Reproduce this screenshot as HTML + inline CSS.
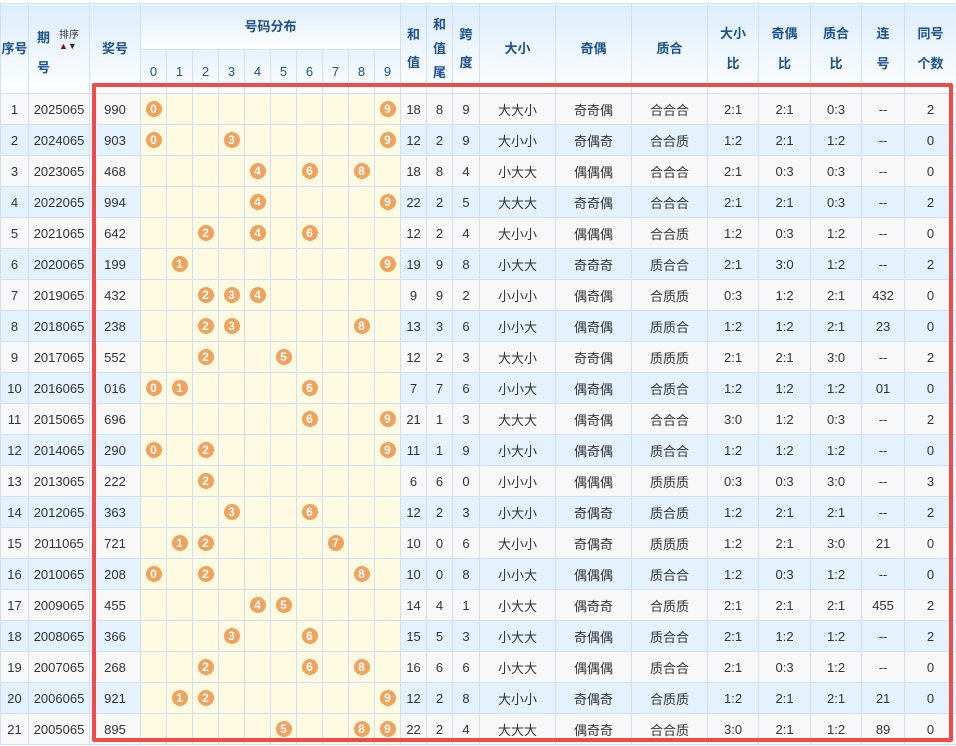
<!DOCTYPE html>
<html><head><meta charset="utf-8"><style>
body{margin:0;background:#fff;width:956px;height:746px;overflow:hidden;position:relative;font-family:"Liberation Sans","Noto Sans CJK SC",sans-serif;}
table{position:absolute;left:0;top:3px;border-collapse:collapse;table-layout:fixed;width:956px;font-size:13px;color:#333;}
td,th{border:1px solid #cfe0f2;text-align:center;padding:0;overflow:hidden;white-space:nowrap;}
th{background:linear-gradient(#dcedfc,#fff);color:#1d4f91;font-weight:bold;font-size:13px;line-height:28px;white-space:normal;}
th.d{font-weight:normal;background:linear-gradient(#e6f2fd,#fff);}
th.r{line-height:30px;}
tbody tr{height:31px;}
tbody tr:nth-child(odd) td{background:#f8f8f8;}
tbody tr:nth-child(even) td{background:#e3f2fd;}
tbody tr td.y{background:#fffbe3;}
b.o{display:inline-block;width:16px;height:16px;border-radius:50%;background:#f2a25c;color:#fff;font-size:12px;line-height:16px;font-weight:bold;}
#frame{position:absolute;left:92px;top:83px;width:853px;height:651px;border:4px solid #f04b4b;border-radius:2px;}
.qh{position:relative;}
.qh .a{position:absolute;left:8px;top:20px;}
.qh .b{position:absolute;left:8px;top:50px;}
.qh .s{position:absolute;left:30px;top:26px;font-size:10px;font-weight:normal;color:#333;line-height:12px;}
.qh .ar{position:absolute;left:30px;top:38px;font-size:9px;line-height:9px;}
</style></head><body>
<table>
<colgroup><col style="width:28px"><col style="width:61px"><col style="width:51px"><col span="10" style="width:26px"><col style="width:26px"><col style="width:26px"><col style="width:27px"><col style="width:76px"><col style="width:76px"><col style="width:76px"><col style="width:51px"><col style="width:52px"><col style="width:51px"><col style="width:43px"><col style="width:52px"></colgroup>
<thead>
<tr style="height:46px"><th rowspan="2">序号</th><th rowspan="2" class="qh"><span class="a">期</span><span class="s">排序</span><span class="ar"><span style="color:#a00">▲</span><span style="color:#333">▼</span></span><span class="b">号</span></th><th rowspan="2">奖号</th><th colspan="10">号码分布</th><th rowspan="2">和<br>值</th><th rowspan="2" style="line-height:24px">和<br>值<br>尾</th><th rowspan="2">跨<br>度</th><th rowspan="2">大小</th><th rowspan="2">奇偶</th><th rowspan="2">质合</th><th rowspan="2" class="r">大小<br>比</th><th rowspan="2" class="r">奇偶<br>比</th><th rowspan="2" class="r">质合<br>比</th><th rowspan="2" class="r">连<br>号</th><th rowspan="2" class="r">同号<br>个数</th></tr>
<tr style="height:44px"><th class="d">0</th><th class="d">1</th><th class="d">2</th><th class="d">3</th><th class="d">4</th><th class="d">5</th><th class="d">6</th><th class="d">7</th><th class="d">8</th><th class="d">9</th></tr>
</thead>
<tbody>
<tr><td>1</td><td>2025065</td><td>990</td><td class="y"><b class="o">0</b></td><td class="y"></td><td class="y"></td><td class="y"></td><td class="y"></td><td class="y"></td><td class="y"></td><td class="y"></td><td class="y"></td><td class="y"><b class="o">9</b></td><td>18</td><td>8</td><td>9</td><td>大大小</td><td>奇奇偶</td><td>合合合</td><td>2:1</td><td>2:1</td><td>0:3</td><td>--</td><td>2</td></tr>
<tr><td>2</td><td>2024065</td><td>903</td><td class="y"><b class="o">0</b></td><td class="y"></td><td class="y"></td><td class="y"><b class="o">3</b></td><td class="y"></td><td class="y"></td><td class="y"></td><td class="y"></td><td class="y"></td><td class="y"><b class="o">9</b></td><td>12</td><td>2</td><td>9</td><td>大小小</td><td>奇偶奇</td><td>合合质</td><td>1:2</td><td>2:1</td><td>1:2</td><td>--</td><td>0</td></tr>
<tr><td>3</td><td>2023065</td><td>468</td><td class="y"></td><td class="y"></td><td class="y"></td><td class="y"></td><td class="y"><b class="o">4</b></td><td class="y"></td><td class="y"><b class="o">6</b></td><td class="y"></td><td class="y"><b class="o">8</b></td><td class="y"></td><td>18</td><td>8</td><td>4</td><td>小大大</td><td>偶偶偶</td><td>合合合</td><td>2:1</td><td>0:3</td><td>0:3</td><td>--</td><td>0</td></tr>
<tr><td>4</td><td>2022065</td><td>994</td><td class="y"></td><td class="y"></td><td class="y"></td><td class="y"></td><td class="y"><b class="o">4</b></td><td class="y"></td><td class="y"></td><td class="y"></td><td class="y"></td><td class="y"><b class="o">9</b></td><td>22</td><td>2</td><td>5</td><td>大大大</td><td>奇奇偶</td><td>合合合</td><td>2:1</td><td>2:1</td><td>0:3</td><td>--</td><td>2</td></tr>
<tr><td>5</td><td>2021065</td><td>642</td><td class="y"></td><td class="y"></td><td class="y"><b class="o">2</b></td><td class="y"></td><td class="y"><b class="o">4</b></td><td class="y"></td><td class="y"><b class="o">6</b></td><td class="y"></td><td class="y"></td><td class="y"></td><td>12</td><td>2</td><td>4</td><td>大小小</td><td>偶偶偶</td><td>合合质</td><td>1:2</td><td>0:3</td><td>1:2</td><td>--</td><td>0</td></tr>
<tr><td>6</td><td>2020065</td><td>199</td><td class="y"></td><td class="y"><b class="o">1</b></td><td class="y"></td><td class="y"></td><td class="y"></td><td class="y"></td><td class="y"></td><td class="y"></td><td class="y"></td><td class="y"><b class="o">9</b></td><td>19</td><td>9</td><td>8</td><td>小大大</td><td>奇奇奇</td><td>质合合</td><td>2:1</td><td>3:0</td><td>1:2</td><td>--</td><td>2</td></tr>
<tr><td>7</td><td>2019065</td><td>432</td><td class="y"></td><td class="y"></td><td class="y"><b class="o">2</b></td><td class="y"><b class="o">3</b></td><td class="y"><b class="o">4</b></td><td class="y"></td><td class="y"></td><td class="y"></td><td class="y"></td><td class="y"></td><td>9</td><td>9</td><td>2</td><td>小小小</td><td>偶奇偶</td><td>合质质</td><td>0:3</td><td>1:2</td><td>2:1</td><td>432</td><td>0</td></tr>
<tr><td>8</td><td>2018065</td><td>238</td><td class="y"></td><td class="y"></td><td class="y"><b class="o">2</b></td><td class="y"><b class="o">3</b></td><td class="y"></td><td class="y"></td><td class="y"></td><td class="y"></td><td class="y"><b class="o">8</b></td><td class="y"></td><td>13</td><td>3</td><td>6</td><td>小小大</td><td>偶奇偶</td><td>质质合</td><td>1:2</td><td>1:2</td><td>2:1</td><td>23</td><td>0</td></tr>
<tr><td>9</td><td>2017065</td><td>552</td><td class="y"></td><td class="y"></td><td class="y"><b class="o">2</b></td><td class="y"></td><td class="y"></td><td class="y"><b class="o">5</b></td><td class="y"></td><td class="y"></td><td class="y"></td><td class="y"></td><td>12</td><td>2</td><td>3</td><td>大大小</td><td>奇奇偶</td><td>质质质</td><td>2:1</td><td>2:1</td><td>3:0</td><td>--</td><td>2</td></tr>
<tr><td>10</td><td>2016065</td><td>016</td><td class="y"><b class="o">0</b></td><td class="y"><b class="o">1</b></td><td class="y"></td><td class="y"></td><td class="y"></td><td class="y"></td><td class="y"><b class="o">6</b></td><td class="y"></td><td class="y"></td><td class="y"></td><td>7</td><td>7</td><td>6</td><td>小小大</td><td>偶奇偶</td><td>合质合</td><td>1:2</td><td>1:2</td><td>1:2</td><td>01</td><td>0</td></tr>
<tr><td>11</td><td>2015065</td><td>696</td><td class="y"></td><td class="y"></td><td class="y"></td><td class="y"></td><td class="y"></td><td class="y"></td><td class="y"><b class="o">6</b></td><td class="y"></td><td class="y"></td><td class="y"><b class="o">9</b></td><td>21</td><td>1</td><td>3</td><td>大大大</td><td>偶奇偶</td><td>合合合</td><td>3:0</td><td>1:2</td><td>0:3</td><td>--</td><td>2</td></tr>
<tr><td>12</td><td>2014065</td><td>290</td><td class="y"><b class="o">0</b></td><td class="y"></td><td class="y"><b class="o">2</b></td><td class="y"></td><td class="y"></td><td class="y"></td><td class="y"></td><td class="y"></td><td class="y"></td><td class="y"><b class="o">9</b></td><td>11</td><td>1</td><td>9</td><td>小大小</td><td>偶奇偶</td><td>质合合</td><td>1:2</td><td>1:2</td><td>1:2</td><td>--</td><td>0</td></tr>
<tr><td>13</td><td>2013065</td><td>222</td><td class="y"></td><td class="y"></td><td class="y"><b class="o">2</b></td><td class="y"></td><td class="y"></td><td class="y"></td><td class="y"></td><td class="y"></td><td class="y"></td><td class="y"></td><td>6</td><td>6</td><td>0</td><td>小小小</td><td>偶偶偶</td><td>质质质</td><td>0:3</td><td>0:3</td><td>3:0</td><td>--</td><td>3</td></tr>
<tr><td>14</td><td>2012065</td><td>363</td><td class="y"></td><td class="y"></td><td class="y"></td><td class="y"><b class="o">3</b></td><td class="y"></td><td class="y"></td><td class="y"><b class="o">6</b></td><td class="y"></td><td class="y"></td><td class="y"></td><td>12</td><td>2</td><td>3</td><td>小大小</td><td>奇偶奇</td><td>质合质</td><td>1:2</td><td>2:1</td><td>2:1</td><td>--</td><td>2</td></tr>
<tr><td>15</td><td>2011065</td><td>721</td><td class="y"></td><td class="y"><b class="o">1</b></td><td class="y"><b class="o">2</b></td><td class="y"></td><td class="y"></td><td class="y"></td><td class="y"></td><td class="y"><b class="o">7</b></td><td class="y"></td><td class="y"></td><td>10</td><td>0</td><td>6</td><td>大小小</td><td>奇偶奇</td><td>质质质</td><td>1:2</td><td>2:1</td><td>3:0</td><td>21</td><td>0</td></tr>
<tr><td>16</td><td>2010065</td><td>208</td><td class="y"><b class="o">0</b></td><td class="y"></td><td class="y"><b class="o">2</b></td><td class="y"></td><td class="y"></td><td class="y"></td><td class="y"></td><td class="y"></td><td class="y"><b class="o">8</b></td><td class="y"></td><td>10</td><td>0</td><td>8</td><td>小小大</td><td>偶偶偶</td><td>质合合</td><td>1:2</td><td>0:3</td><td>1:2</td><td>--</td><td>0</td></tr>
<tr><td>17</td><td>2009065</td><td>455</td><td class="y"></td><td class="y"></td><td class="y"></td><td class="y"></td><td class="y"><b class="o">4</b></td><td class="y"><b class="o">5</b></td><td class="y"></td><td class="y"></td><td class="y"></td><td class="y"></td><td>14</td><td>4</td><td>1</td><td>小大大</td><td>偶奇奇</td><td>合质质</td><td>2:1</td><td>2:1</td><td>2:1</td><td>455</td><td>2</td></tr>
<tr><td>18</td><td>2008065</td><td>366</td><td class="y"></td><td class="y"></td><td class="y"></td><td class="y"><b class="o">3</b></td><td class="y"></td><td class="y"></td><td class="y"><b class="o">6</b></td><td class="y"></td><td class="y"></td><td class="y"></td><td>15</td><td>5</td><td>3</td><td>小大大</td><td>奇偶偶</td><td>质合合</td><td>2:1</td><td>1:2</td><td>1:2</td><td>--</td><td>2</td></tr>
<tr><td>19</td><td>2007065</td><td>268</td><td class="y"></td><td class="y"></td><td class="y"><b class="o">2</b></td><td class="y"></td><td class="y"></td><td class="y"></td><td class="y"><b class="o">6</b></td><td class="y"></td><td class="y"><b class="o">8</b></td><td class="y"></td><td>16</td><td>6</td><td>6</td><td>小大大</td><td>偶偶偶</td><td>质合合</td><td>2:1</td><td>0:3</td><td>1:2</td><td>--</td><td>0</td></tr>
<tr><td>20</td><td>2006065</td><td>921</td><td class="y"></td><td class="y"><b class="o">1</b></td><td class="y"><b class="o">2</b></td><td class="y"></td><td class="y"></td><td class="y"></td><td class="y"></td><td class="y"></td><td class="y"></td><td class="y"><b class="o">9</b></td><td>12</td><td>2</td><td>8</td><td>大小小</td><td>奇偶奇</td><td>合质质</td><td>1:2</td><td>2:1</td><td>2:1</td><td>21</td><td>0</td></tr>
<tr><td>21</td><td>2005065</td><td>895</td><td class="y"></td><td class="y"></td><td class="y"></td><td class="y"></td><td class="y"></td><td class="y"><b class="o">5</b></td><td class="y"></td><td class="y"></td><td class="y"><b class="o">8</b></td><td class="y"><b class="o">9</b></td><td>22</td><td>2</td><td>4</td><td>大大大</td><td>偶奇奇</td><td>合合质</td><td>3:0</td><td>2:1</td><td>1:2</td><td>89</td><td>0</td></tr>
</tbody></table>
<div id="frame"></div>
</body></html>
